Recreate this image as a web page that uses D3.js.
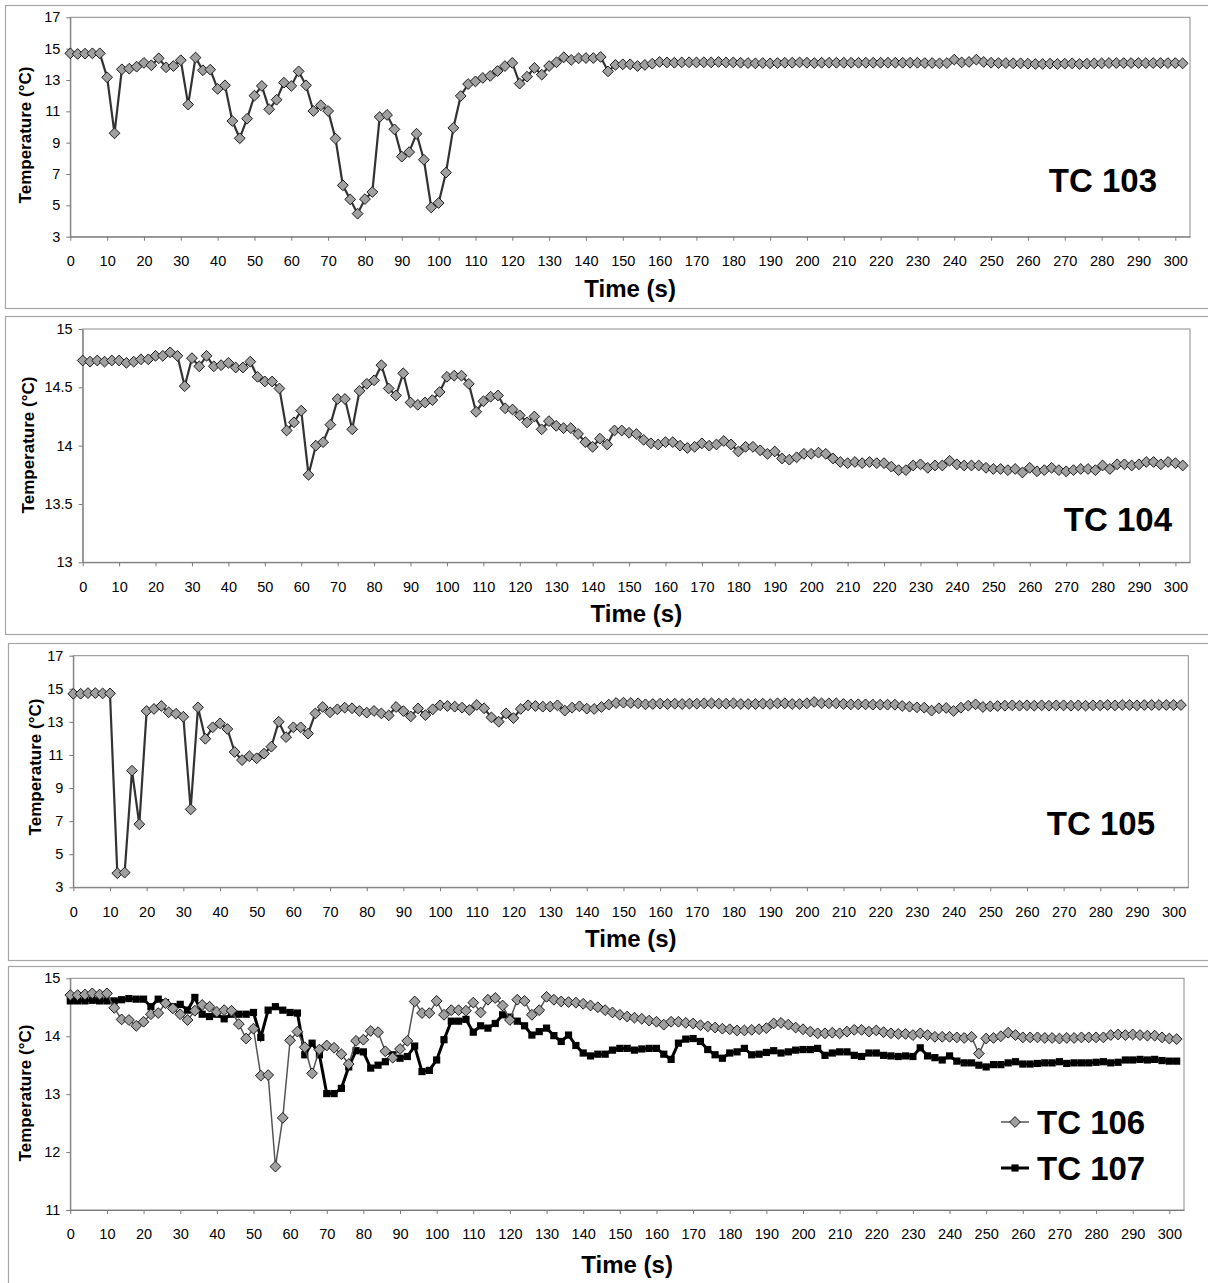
<!DOCTYPE html>
<html>
<head>
<meta charset="utf-8">
<script src="https://cdn.jsdelivr.net/npm/d3@7"></script>
<style>
  body { margin: 0; background: #fff; }
  svg { display: block; font-family: Arial, "Liberation Sans", sans-serif; }
</style>
</head>
<body>
<svg width="1208" height="1283"></svg>
<script>
// time axis, one sample every 2 s
const times = d3.range(0, 304, 2);
const xTicks = d3.range(0, 301, 10);

// thermocouple readings (°C)
const tc103 = [14.70,14.66,14.68,14.70,14.70,13.17,9.6,13.68,13.72,13.85,14.09,13.94,14.38,13.81,13.89,14.26,11.43,14.43,13.62,13.66,
  12.43,12.66,10.38,9.28,10.53,12.0,12.62,11.13,11.74,12.83,12.62,13.55,12.66,11.02,11.38,11.02,9.26,6.28,5.38,4.47,
  5.40,5.85,10.64,10.77,9.85,8.11,8.40,9.57,7.91,4.87,5.15,7.09,9.94,11.98,12.74,12.91,13.13,13.26,13.57,13.89,
  14.09,12.77,13.21,13.77,13.34,13.89,14.13,14.45,14.28,14.38,14.40,14.40,14.47,13.55,13.96,14.0,14.0,13.89,13.96,14.04,
  14.15,14.12,14.1,14.12,14.13,14.12,14.13,14.12,14.15,14.12,14.12,14.1,14.08,14.06,14.08,14.06,14.08,14.1,14.1,14.12,
  14.1,14.08,14.1,14.1,14.1,14.1,14.1,14.1,14.1,14.1,14.1,14.1,14.1,14.1,14.1,14.1,14.08,14.08,14.06,14.08,
  14.3,14.12,14.15,14.3,14.15,14.1,14.08,14.08,14.06,14.06,14.04,14.02,14.02,14.04,14.02,14.04,14.06,14.02,14.04,14.06,
  14.06,14.08,14.08,14.08,14.08,14.08,14.08,14.08,14.08,14.08,14.08,14.06];

const tc104 = [14.73,14.72,14.73,14.72,14.73,14.73,14.71,14.72,14.74,14.74,14.77,14.77,14.80,14.77,14.51,14.75,14.68,14.77,14.68,14.69,
  14.71,14.67,14.67,14.72,14.59,14.55,14.55,14.49,14.13,14.20,14.30,13.75,14.0,14.03,14.18,14.40,14.40,14.14,14.47,14.53,
  14.56,14.69,14.49,14.43,14.62,14.37,14.35,14.37,14.39,14.46,14.59,14.60,14.60,14.53,14.29,14.38,14.42,14.43,14.32,14.31,
  14.26,14.20,14.25,14.14,14.21,14.17,14.15,14.15,14.10,14.03,13.99,14.06,14.01,14.13,14.13,14.11,14.10,14.05,14.02,14.01,
  14.03,14.03,14.0,13.98,13.99,14.02,14.0,14.01,14.04,14.01,13.95,13.99,13.99,13.96,13.93,13.95,13.89,13.88,13.90,13.93,
  13.93,13.94,13.93,13.89,13.86,13.85,13.86,13.85,13.86,13.85,13.85,13.82,13.79,13.79,13.83,13.84,13.81,13.83,13.83,13.87,
  13.84,13.83,13.83,13.83,13.81,13.80,13.80,13.79,13.80,13.77,13.81,13.78,13.79,13.81,13.79,13.78,13.79,13.80,13.80,13.79,
  13.83,13.80,13.84,13.84,13.83,13.84,13.86,13.86,13.84,13.86,13.85,13.83];

const tc105 = [14.70,14.70,14.74,14.74,14.72,14.72,3.85,3.89,10.05,6.81,13.66,13.78,13.96,13.58,13.49,13.31,7.71,13.88,11.98,12.67,
  12.91,12.57,11.18,10.69,10.92,10.80,11.08,11.50,13.01,12.08,12.67,12.67,12.29,13.51,13.90,13.58,13.76,13.86,13.82,13.66,
  13.56,13.66,13.51,13.39,13.90,13.65,13.33,13.81,13.41,13.76,14.0,13.96,13.92,13.86,13.72,14.02,13.82,13.27,13.01,13.51,
  13.23,13.78,14.0,13.96,13.92,13.92,14.0,13.68,13.86,13.94,13.80,13.78,13.90,14.04,14.14,14.16,14.14,14.12,14.06,14.08,
  14.1,14.08,14.1,14.08,14.1,14.1,14.12,14.12,14.1,14.1,14.12,14.08,14.08,14.08,14.1,14.08,14.12,14.12,14.08,14.08,
  14.12,14.2,14.12,14.12,14.12,14.08,14.06,14.06,14.06,14.04,14.04,14.04,14.04,13.96,13.92,13.88,13.86,13.68,13.82,13.84,
  13.66,13.86,13.98,14.06,13.9,13.94,13.96,13.98,14.0,13.98,14.0,13.98,14.0,13.98,14.0,14.0,13.98,14.0,13.98,14.0,
  14.0,14.02,14.0,14.02,14.02,14.0,14.02,14.02,14.02,14.02,14.02,14.02];

const tc106 = [14.71,14.71,14.72,14.74,14.72,14.74,14.49,14.29,14.28,14.18,14.25,14.38,14.40,14.57,14.48,14.38,14.28,14.44,14.54,14.51,
  14.42,14.45,14.44,14.21,13.96,14.13,13.32,13.33,11.75,12.59,13.93,14.08,13.81,13.36,13.77,13.84,13.80,13.69,13.52,13.92,
  13.94,14.09,14.07,13.74,13.63,13.78,13.92,14.60,14.40,14.40,14.61,14.37,14.45,14.45,14.44,14.58,14.41,14.63,14.66,14.53,
  14.28,14.63,14.61,14.37,14.45,14.68,14.63,14.60,14.59,14.58,14.56,14.53,14.50,14.45,14.41,14.37,14.34,14.32,14.30,14.27,
  14.25,14.20,14.25,14.25,14.23,14.22,14.19,14.17,14.15,14.13,14.12,14.10,14.10,14.11,14.12,14.14,14.22,14.23,14.20,14.15,
  14.12,14.08,14.05,14.05,14.06,14.05,14.08,14.11,14.11,14.08,14.10,14.07,14.05,14.04,14.04,14.02,14.05,14.02,13.99,13.99,
  13.99,13.98,13.97,13.99,13.70,13.96,13.97,14.0,14.06,14.02,13.98,13.98,13.98,13.97,13.97,13.96,13.97,13.97,13.98,13.98,
  13.98,13.98,14.02,14.03,14.02,14.03,14.02,14.01,14.01,13.98,13.96,13.95];

const tc107 = [14.61,14.61,14.61,14.62,14.61,14.61,14.61,14.63,14.65,14.64,14.64,14.51,14.64,14.58,14.51,14.55,14.45,14.67,14.38,14.34,
  14.38,14.30,14.38,14.38,14.38,14.41,13.98,14.45,14.51,14.45,14.41,14.40,13.68,13.88,13.68,13.01,13.01,13.10,13.47,13.75,
  13.73,13.45,13.50,13.56,13.68,13.62,13.65,13.83,13.39,13.41,13.59,13.94,14.26,14.26,14.29,14.07,14.18,14.14,14.22,14.37,
  14.33,14.26,14.18,14.02,14.08,14.14,14.01,13.91,14.02,13.84,13.71,13.66,13.69,13.69,13.76,13.79,13.79,13.76,13.78,13.79,
  13.79,13.69,13.60,13.88,13.95,13.96,13.91,13.77,13.68,13.62,13.71,13.73,13.79,13.68,13.69,13.72,13.75,13.71,13.73,13.76,
  13.77,13.77,13.79,13.67,13.71,13.73,13.73,13.67,13.65,13.71,13.71,13.67,13.66,13.65,13.66,13.65,13.80,13.66,13.63,13.59,
  13.66,13.57,13.54,13.54,13.50,13.47,13.51,13.51,13.54,13.56,13.52,13.52,13.53,13.54,13.54,13.56,13.53,13.54,13.54,13.54,
  13.55,13.56,13.54,13.55,13.59,13.59,13.60,13.59,13.60,13.58,13.57,13.57];

const svg = d3.select("svg");
const xMax = 304;

// 패널 배치
const panels = [
  { frame: [5, 5, 1205, 303], plot: [70.3, 17.3, 1190, 236.7], yDomain: [3, 17], yTicks: d3.range(3, 18, 2),
    yTitle: [25, 135], xTitleY: 297, series: [{ data: tc103, kind: "diamond" }],
    label: { text: "TC 103", x: 1157, y: 192 } },
  { frame: [5, 316, 1205, 318], plot: [82.7, 329, 1190, 562.3], yDomain: [13, 15], yTicks: [13, 13.5, 14, 14.5, 15],
    yTitle: [28, 445], xTitleY: 622, series: [{ data: tc104, kind: "diamond" }],
    label: { text: "TC 104", x: 1172, y: 531 } },
  { frame: [8, 643, 1202, 317], plot: [73.3, 655.7, 1188.3, 887.3], yDomain: [3, 17], yTicks: d3.range(3, 18, 2),
    yTitle: [35, 767], xTitleY: 947, series: [{ data: tc105, kind: "diamond" }],
    label: { text: "TC 105", x: 1155, y: 835 } },
  { frame: [8, 966, 1202, 330], plot: [70.3, 978.3, 1184, 1210], yDomain: [11, 15], yTicks: [11, 12, 13, 14, 15],
    yTitle: [25, 1093], xTitleY: 1273,
    series: [{ data: tc107, kind: "square", name: "TC 107" }, { data: tc106, kind: "diamond", name: "TC 106", thin: true }],
    legend: { x: 1001, y: [1168, 1122] } }
];

function marker(g, kind, x, y) {
  if (kind === "diamond") {
    g.append("path")
      .attr("d", `M${x},${y - 5.4}L${x + 5.4},${y}L${x},${y + 5.4}L${x - 5.4},${y}Z`)
      .attr("fill", "#a0a0a0")
      .attr("stroke", "#1a1a1a")
      .attr("stroke-width", 1);
  } else {
    g.append("rect")
      .attr("x", x - 3.6).attr("y", y - 3.6)
      .attr("width", 7.2).attr("height", 7.2)
      .attr("fill", "#000");
  }
}

function drawPanel(p) {
  const [fx, fy, fw, fh] = p.frame;
  const [l, t, r, b] = p.plot;

  svg.append("rect")
    .attr("x", fx + 0.5).attr("y", fy + 0.5)
    .attr("width", fw).attr("height", fh)
    .attr("fill", "#fff")
    .attr("stroke", "#a6a6a6")
    .attr("stroke-width", 1.2);

  const x = d3.scaleLinear().domain([0, xMax]).range([l, r]);
  const y = d3.scaleLinear().domain(p.yDomain).range([b, t]);

  svg.append("rect")
    .attr("x", l).attr("y", t)
    .attr("width", r - l).attr("height", b - t)
    .attr("fill", "#fff")
    .attr("stroke", "#8c8c8c")
    .attr("stroke-width", 1);

  const xAxis = svg.append("g")
    .attr("transform", `translate(0,${b})`)
    .call(d3.axisBottom(x).tickValues(xTicks).tickSize(4).tickPadding(15).tickSizeOuter(0));
  const yAxis = svg.append("g")
    .attr("transform", `translate(${l},0)`)
    .call(d3.axisLeft(y).tickValues(p.yTicks).tickFormat(d => d).tickSize(4).tickPadding(6).tickSizeOuter(0));

  [xAxis, yAxis].forEach(a => {
    a.select(".domain").attr("stroke", "#7a7a7a");
    a.selectAll(".tick line").attr("stroke", "#7a7a7a");
    a.selectAll("text").attr("fill", "#000").style("font-size", "14.5px").style("font-family", "Arial, 'Liberation Sans', sans-serif");
  });

  svg.append("text")
    .attr("transform", `translate(${p.yTitle[0]},${p.yTitle[1]}) rotate(-90)`)
    .attr("text-anchor", "middle")
    .attr("dominant-baseline", "central")
    .style("font-size", "17px")
    .style("font-weight", "bold")
    .text("Temperature (°C)");

  svg.append("text")
    .attr("x", (l + r) / 2).attr("y", p.xTitleY)
    .attr("text-anchor", "middle")
    .style("font-size", "24px")
    .style("font-weight", "bold")
    .text("Time (s)");

  const line = d3.line().x((d, i) => x(times[i])).y(d => y(d));

  p.series.forEach(s => {
    const g = svg.append("g");
    g.append("path")
      .datum(s.data)
      .attr("fill", "none")
      .attr("stroke", s.kind === "square" ? "#000" : (s.thin ? "#555" : "#333"))
      .attr("stroke-width", s.kind === "square" ? 3 : (s.thin ? 1.5 : 2.2))
      .attr("d", line);
    s.data.forEach((v, i) => marker(g, s.kind, x(times[i]), y(v)));
  });

  if (p.label) {
    svg.append("text")
      .attr("x", p.label.x).attr("y", p.label.y)
      .attr("text-anchor", "end")
      .style("font-size", "33px")
      .style("font-weight", "bold")
      .text(p.label.text);
  }

  if (p.legend) {
    p.series.forEach((s, i) => {
      const ly = p.legend.y[i];
      const g = svg.append("g");
      g.append("line")
        .attr("x1", p.legend.x).attr("x2", p.legend.x + 28)
        .attr("y1", ly).attr("y2", ly)
        .attr("stroke", s.kind === "square" ? "#000" : "#555")
        .attr("stroke-width", s.kind === "square" ? 3 : 1.5);
      marker(g, s.kind, p.legend.x + 14, ly);
      g.append("text")
        .attr("x", p.legend.x + 36).attr("y", ly + 11.5)
        .style("font-size", "33px")
        .style("font-weight", "bold")
        .text(s.name);
    });
  }
}

panels.forEach(drawPanel);
</script>
</body>
</html>
